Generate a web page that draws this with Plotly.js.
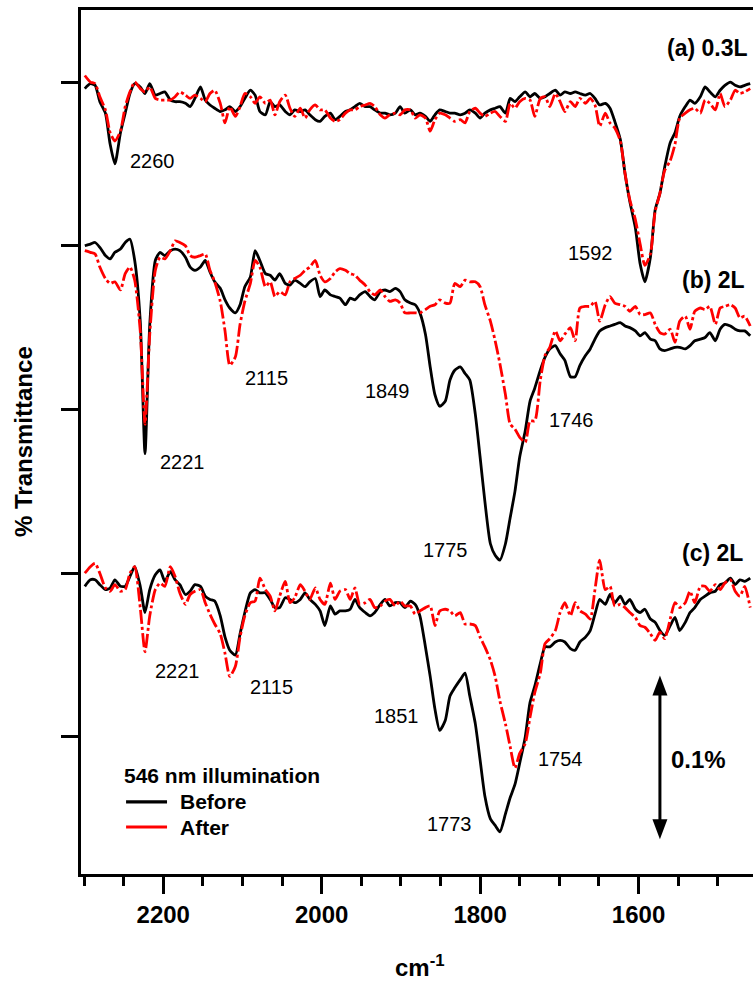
<!DOCTYPE html>
<html>
<head>
<meta charset="utf-8">
<script src="https://cdn.plot.ly/plotly-3.0.1.min.js"></script>
<style>
  html, body { margin: 0; padding: 0; background: #ffffff; }
  #chart { width: 753px; height: 981px; }
</style>
</head>
<body>
<div id="chart"></div>
<script>
// Wavenumber grid (cm^-1) shared by all six spectra
const wavenumber = [
  2299, 2292, 2286, 2280, 2273, 2267, 2261, 2254, 2248, 2242,
  2236, 2229, 2223, 2217, 2210, 2204, 2198, 2191, 2185, 2179,
  2172, 2166, 2160, 2153, 2147, 2141, 2135, 2128, 2122, 2116,
  2109, 2103, 2097, 2090, 2084, 2078, 2071, 2065, 2059, 2053,
  2046, 2040, 2034, 2027, 2021, 2015, 2008, 2002, 1996, 1989,
  1983, 1977, 1970, 1964, 1958, 1952, 1945, 1939, 1933, 1926,
  1920, 1914, 1907, 1901, 1895, 1888, 1882, 1876, 1869, 1863,
  1857, 1851, 1844, 1838, 1832, 1825, 1819, 1813, 1806, 1800,
  1794, 1787, 1781, 1775, 1768, 1762, 1756, 1750, 1743, 1737,
  1731, 1724, 1718, 1712, 1705, 1699, 1693, 1686, 1680, 1674,
  1667, 1661, 1655, 1649, 1642, 1636, 1630, 1623, 1617, 1611,
  1604, 1598, 1592, 1585, 1579, 1573, 1567, 1560, 1554, 1548,
  1541, 1535, 1529, 1522, 1516, 1510, 1503, 1497, 1491, 1484,
  1478, 1472, 1466, 1459
];

// Change in % transmittance, relative to each spectrum's own baseline
// (a) 0.3 L exposure
const aBefore = [
  -0.004, -0.001, -0.002, -0.012, -0.019, -0.038, -0.050, -0.031, -0.019, -0.007,
  -0.001, -0.003, -0.007, -0.001, -0.008, -0.007, -0.006, -0.011, -0.012, -0.012,
  -0.013, -0.015, -0.010, -0.003, -0.011, -0.014, -0.016, -0.018, -0.017, -0.015,
  -0.018, -0.015, -0.010, -0.005, -0.008, -0.018, -0.020, -0.012, -0.015, -0.014,
  -0.018, -0.020, -0.017, -0.018, -0.017, -0.020, -0.023, -0.024, -0.021, -0.019,
  -0.023, -0.021, -0.018, -0.017, -0.015, -0.013, -0.015, -0.015, -0.017, -0.019,
  -0.019, -0.020, -0.019, -0.015, -0.019, -0.017, -0.020, -0.019, -0.021, -0.024,
  -0.020, -0.017, -0.018, -0.019, -0.019, -0.020, -0.019, -0.017, -0.019, -0.022,
  -0.019, -0.017, -0.016, -0.015, -0.019, -0.010, -0.012, -0.009, -0.006, -0.009,
  -0.007, -0.010, -0.009, -0.007, -0.005, -0.008, -0.006, -0.007, -0.006, -0.007,
  -0.008, -0.007, -0.010, -0.014, -0.013, -0.016, -0.024, -0.035, -0.056, -0.073,
  -0.089, -0.111, -0.122, -0.107, -0.078, -0.068, -0.052, -0.037, -0.031, -0.021,
  -0.015, -0.011, -0.013, -0.009, -0.003, -0.006, -0.009, -0.005, -0.002, 0.000,
  -0.002, -0.003, -0.002, -0.001
];
const aAfter = [
  0.004, 0.000, -0.001, -0.009, -0.017, -0.031, -0.036, -0.030, -0.015, -0.006,
  0.000, -0.004, -0.006, -0.003, -0.010, -0.011, -0.011, -0.011, -0.009, -0.006,
  -0.008, -0.010, -0.008, -0.010, -0.012, -0.007, -0.005, -0.013, -0.025, -0.015,
  -0.021, -0.015, -0.007, -0.009, -0.013, -0.009, -0.013, -0.011, -0.020, -0.012,
  -0.008, -0.016, -0.021, -0.016, -0.022, -0.017, -0.014, -0.017, -0.017, -0.022,
  -0.024, -0.023, -0.019, -0.017, -0.017, -0.015, -0.014, -0.013, -0.015, -0.020,
  -0.022, -0.020, -0.019, -0.020, -0.017, -0.017, -0.022, -0.020, -0.022, -0.030,
  -0.023, -0.019, -0.020, -0.022, -0.024, -0.023, -0.025, -0.018, -0.016, -0.019,
  -0.021, -0.019, -0.018, -0.021, -0.024, -0.013, -0.016, -0.012, -0.010, -0.011,
  -0.021, -0.010, -0.009, -0.015, -0.007, -0.012, -0.018, -0.012, -0.015, -0.010,
  -0.013, -0.010, -0.014, -0.027, -0.019, -0.025, -0.028, -0.036, -0.056, -0.072,
  -0.084, -0.099, -0.112, -0.105, -0.079, -0.068, -0.054, -0.048, -0.038, -0.022,
  -0.019, -0.017, -0.016, -0.019, -0.011, -0.013, -0.017, -0.007, -0.015, -0.011,
  -0.005, -0.007, -0.006, -0.004
];

// (b) 2 L exposure
const bBefore = [
  0.000, 0.001, 0.002, -0.001, -0.006, -0.008, -0.004, -0.002, 0.002, 0.004,
  -0.009, -0.046, -0.127, -0.048, -0.009, -0.004, -0.006, -0.003, -0.002, -0.003,
  -0.007, -0.013, -0.015, -0.013, -0.009, -0.016, -0.022, -0.026, -0.033, -0.038,
  -0.041, -0.036, -0.025, -0.019, -0.003, -0.009, -0.017, -0.018, -0.021, -0.017,
  -0.023, -0.024, -0.021, -0.023, -0.025, -0.022, -0.020, -0.031, -0.027, -0.030,
  -0.031, -0.032, -0.036, -0.032, -0.033, -0.030, -0.028, -0.031, -0.033, -0.028,
  -0.027, -0.028, -0.026, -0.028, -0.033, -0.035, -0.036, -0.041, -0.054, -0.074,
  -0.091, -0.098, -0.095, -0.082, -0.076, -0.074, -0.078, -0.082, -0.103, -0.129,
  -0.156, -0.182, -0.189, -0.192, -0.182, -0.166, -0.150, -0.129, -0.113, -0.095,
  -0.087, -0.076, -0.068, -0.063, -0.061, -0.066, -0.070, -0.080, -0.080, -0.073,
  -0.067, -0.063, -0.057, -0.052, -0.050, -0.049, -0.048, -0.047, -0.049, -0.050,
  -0.052, -0.055, -0.053, -0.057, -0.058, -0.063, -0.064, -0.063, -0.062, -0.062,
  -0.063, -0.061, -0.058, -0.057, -0.056, -0.053, -0.058, -0.051, -0.048, -0.049,
  -0.051, -0.052, -0.052, -0.055
];
const bAfter = [
  -0.003, -0.004, -0.005, -0.013, -0.020, -0.023, -0.022, -0.027, -0.017, -0.013,
  -0.021, -0.052, -0.109, -0.054, -0.015, -0.007, -0.008, -0.003, 0.003, 0.002,
  0.000, -0.006, -0.007, -0.006, -0.005, -0.015, -0.022, -0.034, -0.052, -0.073,
  -0.068, -0.048, -0.034, -0.023, -0.009, -0.013, -0.025, -0.022, -0.031, -0.028,
  -0.030, -0.022, -0.020, -0.018, -0.015, -0.013, -0.009, -0.018, -0.022, -0.020,
  -0.016, -0.014, -0.015, -0.017, -0.018, -0.021, -0.024, -0.028, -0.030, -0.027,
  -0.031, -0.034, -0.033, -0.035, -0.041, -0.041, -0.041, -0.041, -0.039, -0.037,
  -0.036, -0.033, -0.035, -0.035, -0.023, -0.025, -0.021, -0.022, -0.022, -0.025,
  -0.036, -0.046, -0.058, -0.072, -0.091, -0.109, -0.112, -0.117, -0.120, -0.107,
  -0.107, -0.082, -0.067, -0.062, -0.052, -0.058, -0.054, -0.050, -0.058, -0.038,
  -0.037, -0.037, -0.034, -0.046, -0.036, -0.031, -0.035, -0.036, -0.037, -0.040,
  -0.037, -0.042, -0.042, -0.041, -0.048, -0.053, -0.054, -0.051, -0.059, -0.046,
  -0.043, -0.051, -0.040, -0.038, -0.039, -0.037, -0.048, -0.038, -0.037, -0.036,
  -0.038, -0.044, -0.043, -0.049
];

// (c) 2 L exposure
const cBefore = [
  -0.008, -0.004, -0.004, -0.007, -0.010, -0.009, -0.004, -0.008, -0.008, -0.002,
  0.004, -0.008, -0.024, -0.010, -0.001, 0.002, -0.005, 0.001, -0.004, -0.007,
  -0.013, -0.011, -0.007, -0.008, -0.014, -0.016, -0.017, -0.026, -0.039, -0.047,
  -0.050, -0.037, -0.024, -0.012, -0.010, -0.012, -0.012, -0.016, -0.021, -0.021,
  -0.015, -0.016, -0.018, -0.016, -0.012, -0.016, -0.019, -0.023, -0.032, -0.020,
  -0.025, -0.023, -0.023, -0.022, -0.016, -0.021, -0.024, -0.026, -0.024, -0.019,
  -0.016, -0.020, -0.018, -0.018, -0.021, -0.017, -0.019, -0.026, -0.045, -0.063,
  -0.083, -0.096, -0.090, -0.075, -0.070, -0.065, -0.061, -0.075, -0.092, -0.114,
  -0.136, -0.150, -0.154, -0.158, -0.147, -0.137, -0.129, -0.116, -0.100, -0.079,
  -0.069, -0.055, -0.045, -0.045, -0.042, -0.041, -0.042, -0.046, -0.047, -0.042,
  -0.039, -0.035, -0.025, -0.016, -0.019, -0.013, -0.018, -0.014, -0.019, -0.016,
  -0.022, -0.024, -0.022, -0.028, -0.030, -0.035, -0.038, -0.032, -0.027, -0.035,
  -0.030, -0.024, -0.021, -0.016, -0.014, -0.012, -0.011, -0.007, -0.006, -0.003,
  -0.007, -0.004, -0.005, -0.003
];
const cAfter = [
  0.000, 0.004, 0.006, 0.000, -0.009, -0.011, -0.007, -0.011, -0.010, 0.000,
  0.004, -0.021, -0.048, -0.026, -0.010, -0.006, -0.008, 0.004, -0.002, -0.012,
  -0.019, -0.013, -0.011, -0.010, -0.018, -0.025, -0.031, -0.037, -0.049, -0.063,
  -0.057, -0.039, -0.026, -0.018, -0.017, -0.003, -0.010, -0.014, -0.023, -0.014,
  -0.005, -0.018, -0.015, -0.007, -0.011, -0.016, -0.009, -0.016, -0.019, -0.006,
  -0.016, -0.011, -0.010, -0.016, -0.009, -0.019, -0.018, -0.016, -0.021, -0.020,
  -0.017, -0.016, -0.020, -0.017, -0.020, -0.020, -0.025, -0.023, -0.021, -0.020,
  -0.032, -0.023, -0.022, -0.023, -0.026, -0.024, -0.031, -0.031, -0.032, -0.039,
  -0.045, -0.053, -0.063, -0.078, -0.092, -0.106, -0.119, -0.110, -0.104, -0.088,
  -0.073, -0.061, -0.043, -0.040, -0.035, -0.024, -0.018, -0.026, -0.018, -0.023,
  -0.025, -0.028, -0.010, 0.008, -0.010, -0.008, -0.020, -0.019, -0.021, -0.024,
  -0.027, -0.032, -0.033, -0.037, -0.041, -0.036, -0.040, -0.028, -0.018, -0.021,
  -0.018, -0.011, -0.018, -0.008, -0.008, -0.011, -0.007, -0.010, -0.006, -0.004,
  -0.011, -0.014, -0.008, -0.021
];

// Vertical offsets used to stack the three pairs of spectra (%T)
const panelNames = ['(a) 0.3L', '(b) 2L', '(c) 2L'];
const panelOffsets = [0.4, 0.3, 0.1];
const seriesNames = ['Before', 'After'];

// Axis ticks
const majorTicks = [2200, 2000, 1800, 1600];
const minorTicks = [2300, 2250, 2150, 2100, 2050, 1950, 1900, 1850, 1750, 1700, 1650, 1550, 1500];
const yTicks = [0, 0.1, 0.2, 0.3, 0.4];

// Peak labels: [wavenumber label, x (cm^-1), y (%T)]
const peakLabels = [
  ['2260', 2213.5, 0.352],
  ['1592', 1661.2, 0.2956],
  ['2115', 2069.6, 0.2195],
  ['1849', 1916.9, 0.2110],
  ['2221', 2176.3, 0.1682],
  ['1746', 1684.6, 0.1933],
  ['1775', 1844.3, 0.1139],
  ['2221', 2182.6, 0.0400],
  ['2115', 2063.3, 0.0308],
  ['1851', 1906.1, 0.0128],
  ['1754', 1699.1, -0.0137],
  ['1773', 1838.6, -0.0534]
];

// Scale bar value (%T)
const scaleBar = 0.1;

const FONT = 'Liberation Sans, Arial, Helvetica, sans-serif';
const BLACK = '#000000';
const RED = '#ff0000';

function shift(arr, off) { return arr.map(v => v + off); }

const pairs = [[aBefore, aAfter], [bBefore, bAfter], [cBefore, cAfter]];
const traces = [];
pairs.forEach((pair, i) => {
  traces.push({
    x: wavenumber, y: shift(pair[0], panelOffsets[i]),
    type: 'scatter', mode: 'lines', name: seriesNames[0] + ' ' + panelNames[i],
    line: { color: BLACK, width: 2.8, shape: 'spline', smoothing: 0.6 },
    showlegend: false, hoverinfo: 'skip'
  });
  traces.push({
    x: wavenumber, y: shift(pair[1], panelOffsets[i]),
    type: 'scatter', mode: 'lines', name: seriesNames[1] + ' ' + panelNames[i],
    line: { color: RED, width: 2.8, shape: 'spline', smoothing: 0.6, dash: '14px,3px,3px,3px' },
    showlegend: false, hoverinfo: 'skip'
  });
});

const annotations = [];
peakLabels.forEach(p => {
  annotations.push({
    text: p[0], x: p[1], y: p[2], xref: 'x', yref: 'y',
    showarrow: false, xanchor: 'center', yanchor: 'middle',
    font: { family: FONT, size: 20, color: BLACK }
  });
});

// Panel titles
const panelLabelPos = [[1566, 0.4208], [1547.6, 0.2791], [1547.6, 0.1124]];
panelNames.forEach((t, i) => {
  annotations.push({
    text: t, x: panelLabelPos[i][0], y: panelLabelPos[i][1], xref: 'x', yref: 'y',
    showarrow: false, xanchor: 'left', yanchor: 'middle',
    font: { family: FONT, size: 23, color: BLACK, weight: 'bold' }
  });
});

// Scale bar caption
annotations.push({
  text: (scaleBar) + '%', x: 1524.3, y: -0.0140, xref: 'x', yref: 'y',
  showarrow: false, xanchor: 'center', yanchor: 'middle',
  font: { family: FONT, size: 24, color: BLACK, weight: 'bold' }
});

// Legend block
annotations.push({
  text: '546 nm illumination', x: 2251.5, y: -0.0238, xref: 'x', yref: 'y',
  showarrow: false, xanchor: 'left', yanchor: 'middle',
  font: { family: FONT, size: 21, color: BLACK, weight: 'bold' }
});
annotations.push({
  text: seriesNames[0], x: 2181.8, y: -0.0397, xref: 'x', yref: 'y',
  showarrow: false, xanchor: 'left', yanchor: 'middle',
  font: { family: FONT, size: 21, color: BLACK, weight: 'bold' }
});
annotations.push({
  text: seriesNames[1], x: 2181.8, y: -0.0550, xref: 'x', yref: 'y',
  showarrow: false, xanchor: 'left', yanchor: 'middle',
  font: { family: FONT, size: 21, color: BLACK, weight: 'bold' }
});

// Axis titles
annotations.push({
  text: '% Transmittance', xref: 'paper', yref: 'paper', x: -0.0863, y: 0.5,
  textangle: -90, showarrow: false, xanchor: 'center', yanchor: 'middle',
  font: { family: FONT, size: 24, color: BLACK, weight: 'bold' }
});
annotations.push({
  text: 'cm<sup>-1</sup>', xref: 'paper', yref: 'paper', x: 0.5045, y: -0.106,
  showarrow: false, xanchor: 'center', yanchor: 'middle',
  font: { family: FONT, size: 24, color: BLACK, weight: 'bold' }
});

// Scale bar arrow: shaft plus two filled heads
const barX = 1573;
const barBottom = -0.0625;
const barTop = barBottom + scaleBar;
const shapes = [
  { type: 'line', xref: 'x', yref: 'y', x0: barX, x1: barX, y0: barBottom + 0.006, y1: barTop - 0.006,
    line: { color: BLACK, width: 3 } },
  { type: 'path', xref: 'x', yref: 'y', xsizemode: 'pixel', ysizemode: 'pixel',
    xanchor: barX, yanchor: barTop, path: 'M0,0 L-7.5,-20 L7.5,-20 Z',
    fillcolor: BLACK, line: { width: 0 } },
  { type: 'path', xref: 'x', yref: 'y', xsizemode: 'pixel', ysizemode: 'pixel',
    xanchor: barX, yanchor: barBottom, path: 'M0,0 L-7.5,20 L7.5,20 Z',
    fillcolor: BLACK, line: { width: 0 } },
  // legend line samples
  { type: 'line', xref: 'x', yref: 'y', x0: 2246.9, x1: 2195.2, y0: -0.0397, y1: -0.0397,
    line: { color: BLACK, width: 3.2 } },
  { type: 'line', xref: 'x', yref: 'y', x0: 2246.9, x1: 2195.2, y0: -0.0550, y1: -0.0550,
    line: { color: RED, width: 3.2 } }
];

const layout = {
  width: 753, height: 981,
  margin: { l: 81, r: 0, t: 10, b: 107, pad: 0 },
  paper_bgcolor: '#ffffff', plot_bgcolor: '#ffffff',
  showlegend: false,
  font: { family: FONT, color: BLACK },
  xaxis: {
    range: [2303.8, 1455.5],
    tickmode: 'array', tickvals: majorTicks, ticktext: majorTicks.map(String),
    ticks: 'outside', ticklen: 17, tickwidth: 3, tickcolor: BLACK,
    minor: { tickmode: 'array', tickvals: minorTicks, ticks: 'outside', ticklen: 9, tickwidth: 3, tickcolor: BLACK, showgrid: false },
    showline: true, linewidth: 3, linecolor: BLACK, mirror: true,
    showgrid: false, zeroline: false,
    tickfont: { family: FONT, size: 24, color: BLACK, weight: 'bold' }
  },
  yaxis: {
    range: [-0.0837, 0.444],
    tickmode: 'array', tickvals: yTicks,
    ticks: 'outside', ticklen: 17, tickwidth: 3, tickcolor: BLACK,
    showticklabels: false,
    showline: true, linewidth: 3, linecolor: BLACK, mirror: false,
    showgrid: false, zeroline: false
  },
  annotations: annotations,
  shapes: shapes
};

Plotly.newPlot('chart', traces, layout, { displayModeBar: false, staticPlot: true });
</script>
</body>
</html>
